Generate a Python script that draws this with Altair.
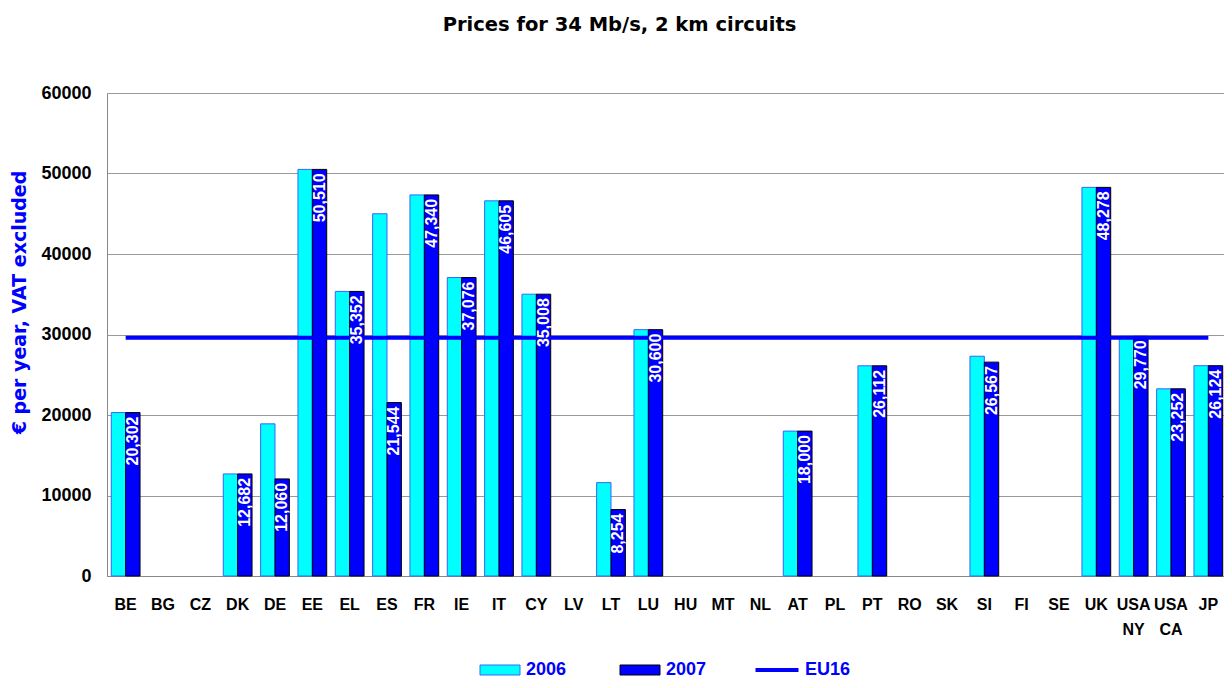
import altair as alt
import pandas as pd

countries = ["BE", "BG", "CZ", "DK", "DE", "EE", "EL", "ES", "FR", "IE", "IT", "CY",
             "LV", "LT", "LU", "HU", "MT", "NL", "AT", "PL", "PT", "RO", "SK", "SI",
             "FI", "SE", "UK", "USA NY", "USA CA", "JP"]
v2006 = [20302, None, None, 12682, 18900, 50510, 35352, 45000, 47340, 37076, 46605, 35008,
         None, 11600, 30600, None, None, None, 18000, None, 26112, None, None, 27300,
         None, None, 48278, 29770, 23252, 26124]
v2007 = [20302, None, None, 12682, 12060, 50510, 35352, 21544, 47340, 37076, 46605, 35008,
         None, 8254, 30600, None, None, None, 18000, None, 26112, None, None, 26567,
         None, None, 48278, 29770, 23252, 26124]
years = ["2006", "2007"]
eu16_value = 29600
eu16_name = "EU16"

rows = []
for c, a, b in zip(countries, v2006, v2007):
    rows.append({"country": c, "year": "2006", "value": a})
    rows.append({"country": c, "year": "2007", "value": b})
df = pd.DataFrame(rows)
df_bars = df.dropna()
df_labels = df_bars[df_bars["year"] == "2007"]
df_line = pd.DataFrame({"country": countries, "value": [eu16_value] * len(countries),
                        "series": [eu16_name] * len(countries)})

LAB = "Liberation Sans"
WIDE = "DejaVu Sans"

x_enc = alt.X("country:N", sort=countries,
              scale=alt.Scale(domain=countries, paddingInner=0.23, paddingOuter=0.115,
                              range=[0, 1120]),
              axis=alt.Axis(title=None, labelAngle=0, ticks=False, domain=True,
                            domainColor="#888888", domainWidth=1,
                            labelFont=LAB, labelFontSize=16, labelFontWeight="bold",
                            labelColor="black", labelPadding=20, labelLineHeight=25,
                            labelExpr="split(datum.label, ' ')"))
xoff_enc = alt.XOffset("year:N", scale=alt.Scale(domain=years, paddingInner=0, paddingOuter=0))
y_enc = alt.Y("value:Q", scale=alt.Scale(domain=[0, 60000]),
              axis=alt.Axis(title="€ per year, VAT excluded",
                            values=[0, 10000, 20000, 30000, 40000, 50000, 60000],
                            format="d", ticks=False, domain=True, domainColor="#888888",
                            domainWidth=1, grid=True, gridColor="#999999", gridWidth=1,
                            labelFont=LAB, labelFontSize=18, labelFontWeight="bold",
                            labelColor="black", labelPadding=16,
                            titleFont=WIDE, titleFontSize=19, titleFontWeight="bold",
                            titleColor="#0000ff", titleX=-88, titleY=209, titleAngle=270,
                            titleAlign="center", titleBaseline="middle"))

legA = alt.Legend(title=None, orient="none", legendX=384, legendY=568, direction="horizontal",
                  symbolType="M-4,-1H4V1H-4Z", symbolSize=100, symbolStrokeWidth=1,
                  labelOffset=17, columnPadding=51, labelFont=LAB, labelFontSize=18,
                  labelFontWeight="bold", labelColor="#0000ff", padding=0)
legB = alt.Legend(title=None, orient="none", legendX=661, legendY=568, direction="horizontal",
                  symbolType="M-4.3,0H4.3", symbolSize=100, symbolStrokeWidth=4,
                  labelOffset=19, labelFont=LAB, labelFontSize=18,
                  labelFontWeight="bold", labelColor="#0000ff", padding=0)

bars = alt.Chart(df_bars).mark_bar(strokeWidth=1).encode(
    x=x_enc,
    xOffset=xoff_enc,
    y=y_enc,
    fill=alt.Fill("year:N", scale=alt.Scale(domain=years, range=["#00ffff", "#0000ff"]), legend=legA),
    stroke=alt.Stroke("year:N", scale=alt.Scale(domain=years, range=["#3366ff", "#000000"]), legend=legA),
)

line = alt.Chart(df_line).mark_line(strokeWidth=4).encode(
    x=alt.X("country:N", sort=countries),
    y=alt.Y("value:Q"),
    color=alt.Color("series:N", scale=alt.Scale(domain=[eu16_name], range=["#0000ff"]), legend=legB),
)

labels = alt.Chart(df_labels).mark_text(angle=270, align="right", baseline="middle", dx=-4,
                                        color="white", font=LAB, fontSize=16,
                                        fontWeight="bold").encode(
    x=alt.X("country:N", sort=countries),
    xOffset=alt.XOffset("year:N", scale=alt.Scale(domain=years)),
    y=alt.Y("value:Q"),
    text=alt.Text("value:Q", format=",d"),
)

chart = alt.layer(bars, line, labels).properties(
    width=1117, height=483,
    title=alt.Title("Prices for 34 Mb/s, 2 km circuits", font=WIDE, fontSize=19.5,
                    fontWeight="bold", color="black", anchor="middle", dx=-46, offset=49),
    autosize=alt.AutoSizeParams(type="none"),
    padding={"left": 99, "top": 85, "right": 0, "bottom": 104},
).configure_view(strokeWidth=0).configure(background="white")

chart.save("out.html", embed_options={"renderer": "svg", "actions": False})
